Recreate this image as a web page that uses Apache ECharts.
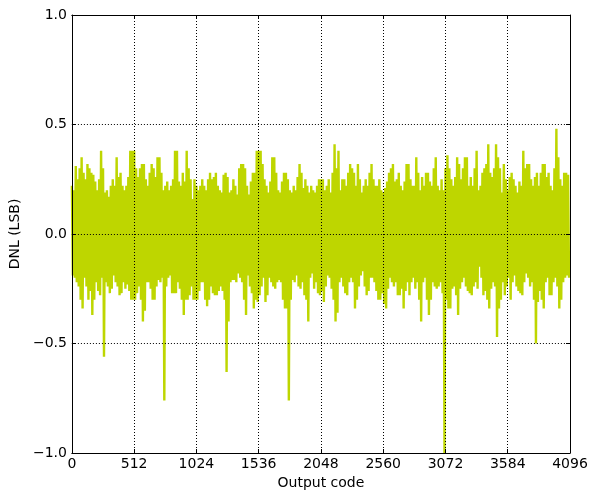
<!DOCTYPE html>
<html>
<head>
<meta charset="utf-8">
<script src="https://cdn.jsdelivr.net/npm/echarts@6/dist/echarts.min.js"></script>
<style>html,body{margin:0;padding:0;background:#fff}#c{width:591px;height:495px}</style>
</head>
<body>
<div id="c"></div>
<script>
// DNL envelope: one high and one low value per 16-code step
const codeStep = 16;
const upper = [
  .22,.20,.31,.25,.30,.35,.28,.25,.32,.30,.28,.27,.24,.20,.25,.38,
  .30,.19,.20,.17,.22,.25,.22,.35,.26,.28,.22,.20,.22,.26,.38,.38,
  .38,.30,.26,.30,.32,.32,.25,.22,.28,.32,.30,.26,.35,.35,.28,.20,
  .22,.24,.20,.22,.25,.38,.38,.24,.22,.28,.24,.38,.30,.25,.16,.25,
  .22,.20,.22,.25,.22,.20,.25,.28,.25,.26,.28,.22,.20,.19,.27,.28,
  .26,.19,.20,.25,.22,.18,.30,.32,.32,.30,.22,.18,.24,.28,.28,.38,
  .38,.38,.32,.25,.22,.19,.24,.35,.35,.28,.20,.19,.24,.28,.28,.25,
  .20,.19,.22,.20,.26,.32,.28,.21,.25,.22,.19,.22,.20,.19,.22,.25,
  .25,.25,.20,.22,.25,.19,.28,.41,.30,.38,.20,.25,.25,.22,.28,.32,
  .30,.28,.22,.32,.25,.19,.22,.25,.22,.28,.32,.25,.22,.22,.25,.20,
  .19,.21,.24,.28,.30,.32,.24,.25,.28,.22,.20,.24,.32,.32,.25,.22,
  .22,.35,.28,.20,.26,.22,.28,.28,.24,.22,.30,.35,.22,.20,.25,.20,
  .30,.36,.30,.25,.22,.26,.35,.32,.25,.30,.35,.35,.22,.26,.22,.30,
  .38,.20,.22,.28,.30,.32,.41,.28,.26,.30,.41,.35,.30,.19,.32,.25,
  .20,.26,.28,.25,.22,.19,.24,.22,.38,.30,.32,.32,.25,.22,.26,.28,
  .22,.28,.32,.32,.26,.28,.22,.20,.30,.48,.35,.25,.22,.28,.28,.27
];
const lower = [
  -.19,-.20,-.22,-.24,-.30,-.34,-.20,-.24,-.30,-.26,-.37,-.30,-.22,-.26,-.28,-.20,
  -.56,-.22,-.24,-.27,-.25,-.19,-.22,-.24,-.28,-.27,-.22,-.25,-.23,-.26,-.30,-.30,
  -.30,-.27,-.24,-.30,-.40,-.35,-.22,-.22,-.25,-.30,-.30,-.24,-.21,-.22,-.20,-.76,
  -.24,-.20,-.19,-.27,-.27,-.27,-.22,-.25,-.30,-.37,-.30,-.30,-.28,-.24,-.30,-.30,
  -.30,-.26,-.22,-.22,-.30,-.33,-.30,-.24,-.27,-.28,-.28,-.26,-.24,-.26,-.30,-.63,
  -.40,-.22,-.21,-.21,-.22,-.18,-.20,-.22,-.30,-.37,-.19,-.24,-.27,-.34,-.30,-.31,
  -.28,-.24,-.20,-.31,-.28,-.20,-.22,-.24,-.25,-.22,-.21,-.22,-.30,-.34,-.34,-.76,
  -.30,-.21,-.22,-.19,-.24,-.25,-.22,-.28,-.30,-.40,-.20,-.18,-.25,-.22,-.27,-.28,
  -.26,-.31,-.24,-.19,-.20,-.25,-.30,-.40,-.36,-.22,-.20,-.24,-.27,-.28,-.22,-.20,
  -.22,-.34,-.30,-.24,-.19,-.17,-.24,-.28,-.26,-.20,-.20,-.22,-.26,-.30,-.30,-.27,
  -.32,-.34,-.25,-.20,-.22,-.24,-.22,-.28,-.28,-.25,-.34,-.26,-.22,-.28,-.22,-.20,
  -.25,-.22,-.30,-.40,-.22,-.20,-.30,-.37,-.30,-.22,-.24,-.25,-.24,-.22,-.27,-1.0,
  -.30,-.34,-.34,-.25,-.24,-.28,-.37,-.25,-.22,-.20,-.24,-.26,-.27,-.28,-.24,-.22,
  -.25,-.15,-.20,-.28,-.26,-.30,-.34,-.25,-.22,-.24,-.47,-.34,-.30,-.22,-.28,-.24,
  -.20,-.30,-.22,-.19,-.24,-.26,-.27,-.28,-.22,-.18,-.20,-.24,-.22,-.30,-.50,-.31,
  -.26,-.30,-.34,-.22,-.20,-.28,-.28,-.22,-.20,-.24,-.34,-.30,-.22,-.20,-.19,-.20
];
const xTicks = [0, 512, 1024, 1536, 2048, 2560, 3072, 3584, 4096];
const yTicks = [-1.0, -0.5, 0.0, 0.5, 1.0];

const data = [];
for (let i = 0; i < upper.length; i++) {
  data.push([i * codeStep, upper[i]]);
  data.push([i * codeStep + codeStep / 2, lower[i]]);
}

const font = 'DejaVu Sans';
const fmtY = v => (v < 0 ? '\u2212' : '') + Math.abs(v).toFixed(1);
const fmtX = v => String(v);
const grid = { left: 71, right: 21, top: 15, bottom: 38 };
const dotted = { show: true, lineStyle: { color: '#000', type: [1, 2], width: 1 } };

const chart = echarts.init(document.getElementById('c'), null, { renderer: 'canvas' });
chart.setOption({
  animation: false,
  backgroundColor: '#fff',
  grid: grid,
  xAxis: [{
    type: 'value', min: xTicks[0], max: xTicks[xTicks.length - 1], interval: 512, z: 5,
    name: 'Output code', nameLocation: 'middle', nameGap: 23,
    nameTextStyle: { fontFamily: font, fontSize: 14, color: '#000' },
    axisLine: { show: true, onZero: false, lineStyle: { color: '#000', width: 1 } },
    axisTick: { show: true, inside: true, length: 4, lineStyle: { color: '#000' } },
    axisLabel: { fontFamily: font, fontSize: 14, color: '#000', margin: 4, formatter: fmtX },
    splitLine: dotted
  }, {
    type: 'value', position: 'top', min: 0, max: 4096, interval: 512, z: 5,
    axisLine: { show: true, onZero: false, lineStyle: { color: '#000', width: 1 } },
    axisTick: { show: true, inside: true, length: 4, lineStyle: { color: '#000' } },
    axisLabel: { show: false }, splitLine: { show: false }
  }],
  yAxis: [{
    type: 'value', min: yTicks[0], max: yTicks[yTicks.length - 1], interval: 0.5, z: 5,
    name: 'DNL (LSB)', nameLocation: 'middle', nameGap: 43,
    nameTextStyle: { fontFamily: font, fontSize: 14, color: '#000' },
    axisLine: { show: true, onZero: false, lineStyle: { color: '#000', width: 1 } },
    axisTick: { show: true, inside: true, length: 4, lineStyle: { color: '#000' } },
    axisLabel: { fontFamily: font, fontSize: 14, color: '#000', margin: 5, formatter: fmtY },
    splitLine: dotted
  }, {
    type: 'value', position: 'right', min: -1, max: 1, interval: 0.5, z: 5,
    axisLine: { show: true, onZero: false, lineStyle: { color: '#000', width: 1 } },
    axisTick: { show: true, inside: true, length: 4, lineStyle: { color: '#000' } },
    axisLabel: { show: false }, splitLine: { show: false }
  }],
  series: [{
    type: 'line', xAxisIndex: 0, yAxisIndex: 0, data: data,
    showSymbol: false, symbol: 'none', clip: true, z: 2,
    lineStyle: { color: '#bed600', width: 2.4 }
  }]
});
</script>
</body>
</html>
